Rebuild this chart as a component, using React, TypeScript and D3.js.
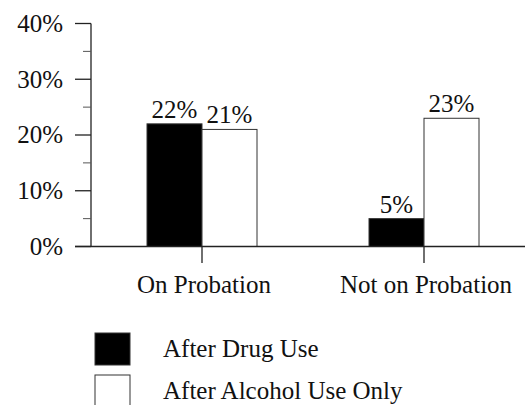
import React from "react";
import * as d3 from "d3";

const categories = ["On Probation", "Not on Probation"];
const seriesNames = ["After Drug Use", "After Alcohol Use Only"];
const drugUse = [22, 5];
const alcoholOnly = [21, 23];
const majorTicks = [0, 10, 20, 30, 40];
const minorTicks = [5, 15, 25, 35];

const W = 525;
const H = 405;
const FONT = "Liberation Serif";
const FS = 25;

export default function App() {
  const y = d3.scaleLinear().domain([0, 40]).range([246.5, 23.5]);
  const x = d3.scaleBand<string>().domain(categories).range([91, 535]).padding(0);
  const inner = d3.scaleBand<string>().domain(seriesNames).range([-55, 55]).padding(0);
  const series = [drugUse, alcoholOnly];
  const fills = ["#000", "#fff"];
  const x0 = 91;

  return (
    <svg width={W} height={H} style={{ position: "absolute", left: 0, top: 0, background: "#fff" }}>
      {/* y axis */}
      <line x1={x0} x2={x0} y1={y(40)} y2={y(0)} stroke="#222" strokeWidth={1.3} />
      {majorTicks.map((t) => (
        <g key={t}>
          <line x1={75} x2={x0} y1={y(t)} y2={y(t)} stroke="#222" strokeWidth={1.3} />
          <text x={63} y={y(t)} dy="0.33em" textAnchor="end" fontSize={FS} fontFamily={FONT} fill="#111">
            {t}%
          </text>
        </g>
      ))}
      {minorTicks.map((t) => (
        <line key={t} x1={83} x2={x0} y1={y(t)} y2={y(t)} stroke="#555" strokeWidth={1} />
      ))}
      {/* bars */}
      {categories.map((c, ci) => {
        const cx = (x(c) as number) + x.bandwidth() / 2;
        return (
          <g key={c}>
            {seriesNames.map((s, si) => {
              const v = series[si][ci];
              const bx = cx + (inner(s) as number);
              return (
                <g key={s}>
                  <rect
                    x={bx}
                    y={y(v)}
                    width={inner.bandwidth()}
                    height={y(0) - y(v)}
                    fill={fills[si]}
                    stroke="#333"
                    strokeWidth={1}
                  />
                  <text
                    x={bx + inner.bandwidth() / 2}
                    y={y(v) - 6}
                    textAnchor="middle"
                    fontSize={FS}
                    fontFamily={FONT}
                    fill="#111"
                  >
                    {v}%
                  </text>
                </g>
              );
            })}
            <line x1={cx} x2={cx} y1={y(0)} y2={263} stroke="#222" strokeWidth={1.3} />
            <text x={cx + 2} y={293} textAnchor="middle" fontSize={FS} fontFamily={FONT} fill="#111">
              {c}
            </text>
          </g>
        );
      })}
      {/* x axis baseline */}
      <line x1={75} x2={W} y1={y(0)} y2={y(0)} stroke="#222" strokeWidth={1.3} />
      {/* legend */}
      {seriesNames.map((s, i) => (
        <g key={s} transform={`translate(95, ${333 + i * 42})`}>
          <rect x={0} y={0} width={35} height={32} fill={fills[i]} stroke="#333" strokeWidth={1} />
          <text x={68} y={16} dy="0.33em" fontSize={FS} fontFamily={FONT} fill="#111">
            {s}
          </text>
        </g>
      ))}
    </svg>
  );
}
